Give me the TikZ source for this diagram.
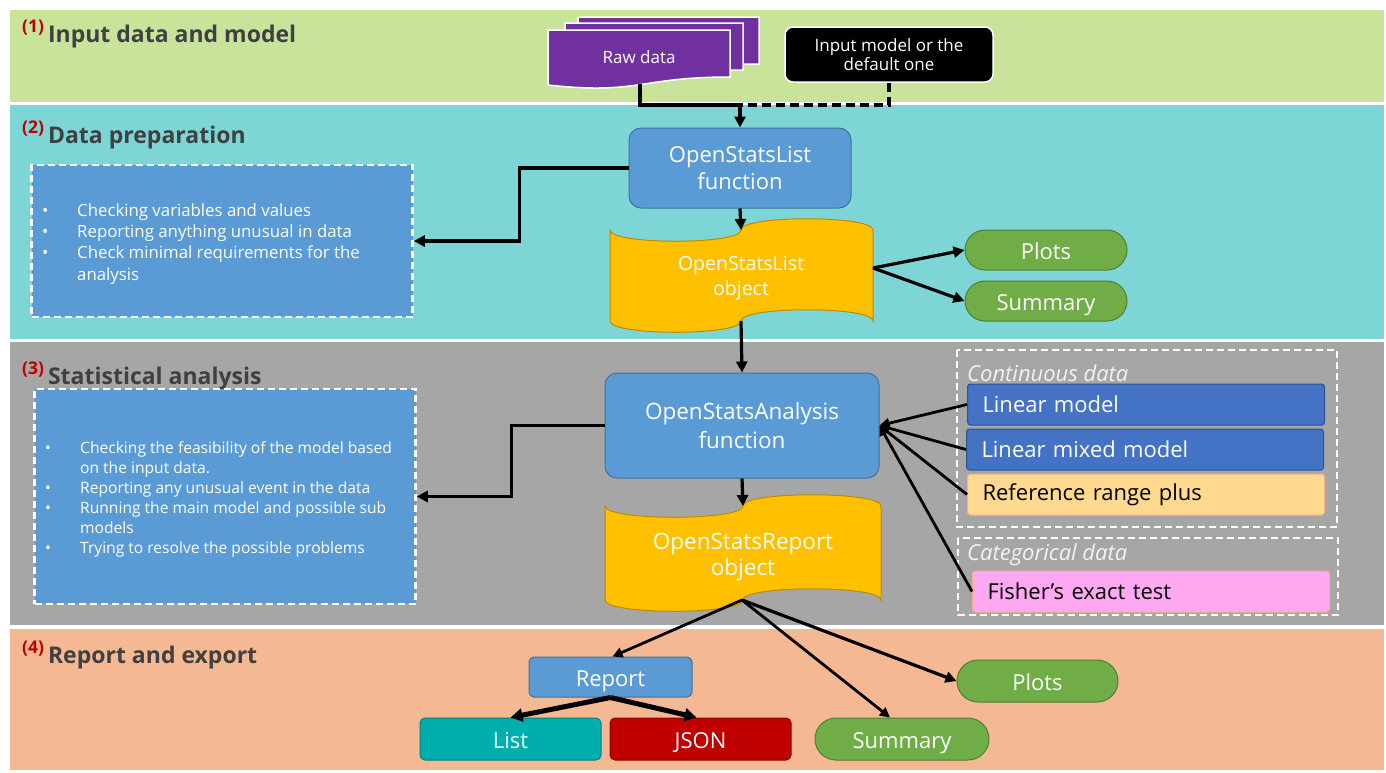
\documentclass[tikz,border=0pt]{standalone}
\usepackage{fontspec}
\setmainfont{Open Sans}
\usetikzlibrary{arrows.meta,shapes.misc,calc}
\definecolor{bandA}{HTML}{C9E39B}
\definecolor{bandB}{HTML}{7DD6D5}
\definecolor{bandC}{HTML}{A6A6A6}
\definecolor{bandD}{HTML}{F4B992}
\definecolor{fnblue}{HTML}{5B9BD5}
\definecolor{fnborder}{HTML}{41719C}
\definecolor{gold}{HTML}{FFC000}
\definecolor{goldborder}{HTML}{BC8C00}
\definecolor{grn}{HTML}{70AD47}
\definecolor{grnborder}{HTML}{507E32}
\definecolor{purp}{HTML}{7030A0}
\definecolor{lmblue}{HTML}{4472C4}
\definecolor{lmborder}{HTML}{2F528F}
\definecolor{refor}{HTML}{FFD98F}
\definecolor{reforborder}{HTML}{F4B183}
\definecolor{pinkf}{HTML}{FFA9F3}
\definecolor{tealbox}{HTML}{00AEAE}
\definecolor{tealborder}{HTML}{008080}
\definecolor{jsonred}{HTML}{C00000}
\definecolor{jsonborder}{HTML}{900000}
\definecolor{titlegray}{HTML}{404040}
\definecolor{numred}{HTML}{C00000}
\definecolor{labelgray}{HTML}{F2F2F2}
\newcommand{\fsz}[1]{\fontsize{#1}{#1}\selectfont}
\tikzset{
  fnbox/.style={draw=fnborder, line width=1pt, fill=fnblue, rounded corners=12pt, text=white, align=center, inner sep=0pt},
  smallbox/.style={draw=fnborder, line width=1pt, fill=fnblue, rounded corners=5pt, text=white, align=center, inner sep=0pt, font=\fsz{22}, text height=19pt, text depth=0pt},
  pill/.style={rounded rectangle, draw=grnborder, line width=1pt, fill=grn, text=white, inner sep=0pt, font=\fsz{22}, text height=19pt, text depth=0pt},
  tape/.style={draw=goldborder, line width=1pt, fill=gold},
  doc/.style={draw=white, line width=1.5pt, fill=purp},
  bullbox/.style={draw=white, dash pattern=on 7pt off 4pt, line width=2.5pt, fill=fnblue, inner sep=0pt},
  grpbox/.style={draw=white, dash pattern=on 7pt off 4pt, line width=2.5pt},
  modelbox/.style={line width=1pt, rounded corners=3pt, anchor=west, minimum width=357pt, minimum height=41pt, text width=327pt, align=left, inner xsep=15pt, inner ysep=0pt, font=\fsz{22}},
  conn/.style={line width=3.2pt, -{Triangle[length=11pt,width=11pt]}},
  thinconn/.style={line width=2.8pt, -{Triangle[length=10pt,width=10pt]}},
  title/.style={anchor=base west, inner sep=0pt, text=titlegray, font=\bfseries\fsz{23}},
  grplabel/.style={anchor=west, inner sep=0pt, text=labelgray, font=\itshape\fsz{22}},
  bulltext/.style={text=white, align=left, inner sep=0pt, anchor=west}
}
\begin{document}
\begin{tikzpicture}[x=1pt,y=-1pt]
\useasboundingbox (0,0) rectangle (1386,772);
\fill[white] (0,0) rectangle (1386,772);
% bands
\fill[bandA] (10,10) rectangle (1384,102);
\fill[bandB] (10,105) rectangle (1384,339);
\fill[bandC] (10,342) rectangle (1384,625);
\fill[bandD] (10,629) rectangle (1384,770);
% titles
\node[title] (t1) at (22,42) {{\color{numred}\fsz{17.5}\raisebox{10pt}{(1)}}\hspace{4pt}Input data and model};
\node[title] (t2) at (22,143) {{\color{numred}\fsz{17.5}\raisebox{10pt}{(2)}}\hspace{4pt}Data preparation};
\node[title] (t3) at (22,384) {{\color{numred}\fsz{17.5}\raisebox{10pt}{(3)}}\hspace{4pt}Statistical analysis};
\node[title] (t4) at (22,663) {{\color{numred}\fsz{17.5}\raisebox{10pt}{(4)}}\hspace{4pt}Report and export};
% raw data documents
\draw[doc] (578,17) -- (759,17) -- (759,64) .. controls (668,64) and (668,82) .. (578,72) -- cycle;
\draw[doc] (565,23) -- (743,23) -- (743,70) .. controls (654,70) and (654,88) .. (565,78) -- cycle;
\draw[doc] (548,30) -- (730,30) -- (730,77) .. controls (639,77) and (639,95) .. (548,85) -- cycle;
\node[text=white, font=\fsz{17}] (raw) at (639,57) {Raw data};
\coordinate (rawbot) at (640,84);
% input model
\node[draw=white, line width=1.5pt, fill=black, rounded corners=8pt, text=white, align=center, minimum width=208pt, minimum height=55pt, inner sep=0pt, font=\fsz{17}] (model) at (889,54.5) {Input model or the\\[1pt]default one};
% OpenStatsList function
\node[fnbox, minimum width=222pt, minimum height=80pt, font=\fsz{22}] (fn1) at (740,168) {OpenStatsList\\[4pt]function};
\coordinate (j1) at (740,105);
\draw[line width=3.2pt] (rawbot) |- (j1);
\draw[line width=3.2pt, dash pattern=on 9pt off 5pt] (model.south) |- (j1);
\draw[conn] (j1) -- (fn1.north);
% OpenStatsList object (punched tape)
\draw[tape] (610,230) .. controls (610,245) and (741,245) .. (741,230)
  .. controls (741,215) and (873,215) .. (873,230) -- (873,321)
  .. controls (873,306) and (741,306) .. (741,321)
  .. controls (741,336) and (610,336) .. (610,321) -- cycle;
\node[text=white, align=center, font=\fsz{19.5}] (obj1) at (741,278) {OpenStatsList\\[5pt]object};
\coordinate (obj1top) at (741,230);
\coordinate (obj1bot) at (741,321);
\coordinate (obj1r) at (873,268);
\draw[conn] (fn1.south) -- (obj1top);
% bullet box 2
\node[bullbox, minimum width=381pt, minimum height=152pt] (box2) at (222,241) {};
\node[bulltext, font=\fontsize{16.8}{21.4}\selectfont] (b2text) at (42,244) {\begin{tabular}{@{}p{35pt}@{}l@{}}
\textbullet & Checking variables and values\\
\textbullet & Reporting anything unusual in data\\
\textbullet & Check minimal requirements for the\\
 & analysis
\end{tabular}};
\draw[conn] (fn1.west) -- ++(-109,0) |- (box2.east);
% plots / summary band 2
\node[pill, minimum width=162pt, minimum height=40pt] (plots1) at (1046,250) {Plots};
\node[pill, minimum width=162pt, minimum height=40pt] (summ1) at (1046,301) {Summary};
\draw[conn] (obj1r) -- (plots1.west);
\draw[conn] (obj1r) -- (summ1.west);
% OpenStatsAnalysis function
\node[fnbox, minimum width=274pt, minimum height=105pt, font=\fsz{22.5}] (fn2) at (742,425.5) {OpenStatsAnalysis\\[5pt]function};
\draw[conn] (obj1bot) -- (fn2.north);
% bullet box 3
\node[bullbox, minimum width=381pt, minimum height=215pt] (box3) at (225,496.5) {};
\node[bulltext, font=\fontsize{15.6}{20}\selectfont] (b3text) at (45,499) {\begin{tabular}{@{}p{35pt}@{}l@{}}
\textbullet & Checking the feasibility of the model based\\
 & on the input data.\\
\textbullet & Reporting any unusual event in the data\\
\textbullet & Running the main model and possible sub\\
 & models\\
\textbullet & Trying to resolve the possible problems
\end{tabular}};
\draw[conn] (fn2.west) -- ++(-93,0) |- (box3.east);
% OpenStatsReport object
\draw[tape] (605,506) .. controls (605,521) and (743,521) .. (743,506)
  .. controls (743,491) and (881,491) .. (881,506) -- (881,600)
  .. controls (881,585) and (743,585) .. (743,600)
  .. controls (743,615) and (605,615) .. (605,600) -- cycle;
\node[text=white, align=center, font=\fsz{22.5}] (obj2) at (743,557) {OpenStatsReport\\[4pt]object};
\coordinate (obj2top) at (743,506);
\coordinate (obj2bot) at (742,600);
\draw[conn] (fn2.south) -- (obj2top);
% continuous / categorical groups
\draw[grpbox] (957,350) rectangle (1337,527);
\draw[grpbox] (958,538) rectangle (1338,615);
\node[grplabel] (cont) at (967,373) {Continuous data};
\node[grplabel] (cat) at (967,555) {Categorical data};
\node[modelbox, draw=lmborder, fill=lmblue, text=white] (lm) at (967,404.5) {Linear model};
\node[modelbox, draw=lmborder, fill=lmblue, text=white] (lmm) at (966,449.5) {Linear mixed model};
\node[modelbox, draw=reforborder, fill=refor, text=black] (ref) at (967,494.5) {Reference range plus};
\node[modelbox, draw=reforborder, fill=pinkf, text=black] (fisher) at (972,591.5) {Fisher’s exact test};
\draw[thinconn] (lm.west) -- (fn2.east);
\draw[thinconn] (lmm.west) -- (fn2.east);
\draw[thinconn] (ref.west) -- (fn2.east);
\draw[thinconn] (fisher.west) -- (fn2.east);
% band 4
\node[smallbox, minimum width=163pt, minimum height=40pt] (report) at (610.5,677) {Report};
\node[smallbox, draw=tealborder, fill=tealbox, minimum width=181pt, minimum height=42pt] (list) at (510.5,739) {List};
\node[smallbox, draw=jsonborder, fill=jsonred, minimum width=181pt, minimum height=42pt] (json) at (700.5,739) {JSON};
\node[pill, minimum width=174pt, minimum height=42pt] (summ2) at (902,739) {Summary};
\node[pill, minimum width=161pt, minimum height=42pt] (plots2) at (1037.5,681) {Plots};
\draw[thinconn] (obj2bot) -- ([xshift=2pt]report.north);
\draw[thinconn] (obj2bot) -- ([xshift=-12pt]summ2.north);
\draw[conn] (obj2bot) -- (plots2.west);
\draw[line width=5pt, -{Triangle[length=12pt,width=13pt]}] (report.south) -- (list.north);
\draw[line width=5pt, -{Triangle[length=12pt,width=13pt]}] (report.south) -- ([xshift=-4pt]json.north);
\end{tikzpicture}
\end{document}
